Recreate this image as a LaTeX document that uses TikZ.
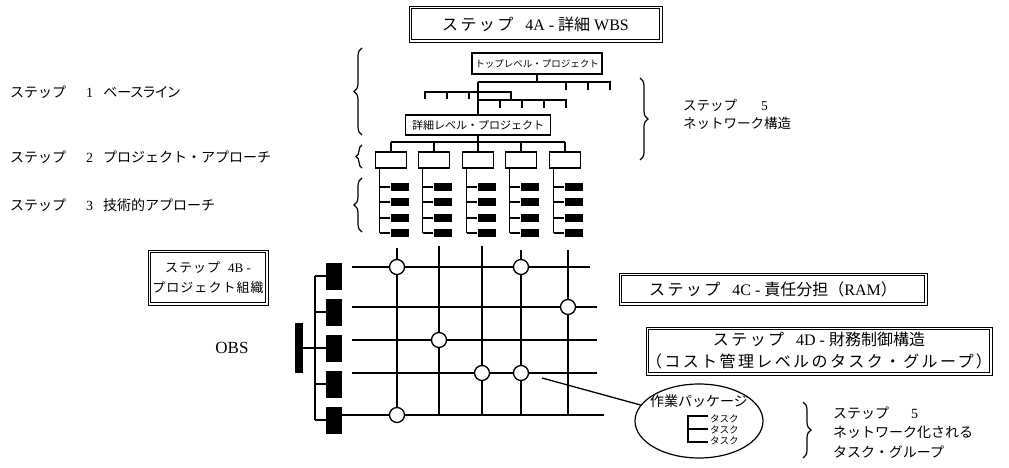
\documentclass[tikz,border=0pt]{standalone}
\usepackage{fontspec}
\setmainfont{Liberation Serif}
\newfontfamily\jp{Noto Sans CJK JP}
\newfontfamily\jpp[RawFeature=+palt]{Noto Sans CJK JP}
\newfontfamily\jps[LetterSpace=15]{Noto Sans CJK JP}
\newfontfamily\jpt[LetterSpace=8]{Noto Sans CJK JP}
\usetikzlibrary{decorations.pathreplacing,shapes.geometric}
\newcommand\innerbox[1]{\draw[line width=0.8pt] ([xshift=2.6pt,yshift=-2.6pt]#1.north west) rectangle ([xshift=-2.6pt,yshift=2.6pt]#1.south east);}
\begin{document}
\begin{tikzpicture}[x=1pt,y=-1pt,
  lin/.style={line width=1.3pt},
  dbox/.style={draw, line width=0.8pt, inner sep=0pt, align=center},
  sbox/.style={draw, line width=1.2pt, inner sep=0pt},
  blk/.style={fill=black, draw=none, inner sep=0pt},
  dot/.style={circle, draw, fill=white, line width=1.3pt, minimum size=15pt, inner sep=0pt},
  brc/.style={decorate, decoration={brace, amplitude=8pt}, line width=1.2pt},
  lbl/.style={anchor=west, inner sep=0pt, font=\fontsize{14}{16}\selectfont},
  tsk/.style={anchor=west, inner sep=0pt, font=\jp\fontsize{9.5}{10}\selectfont}]
\useasboundingbox (0,0) rectangle (1009,468);

% ---- title 4A
\node[dbox, minimum width=253pt, minimum height=36pt, font=\fontsize{16}{18}\selectfont] (t4a) at (535.5,24)
  {{\jps ステップ}\hspace{12pt}4A - {\jp 詳細} WBS};
\innerbox{t4a}

% ---- left step labels
\node[lbl] (s1) at (10,92) {{\jp ステップ}\hspace{20pt}1\hspace{10pt}{\jpp ベースライン}};
\node[lbl] (s2) at (10,157) {{\jp ステップ}\hspace{20pt}2\hspace{10pt}{\jp プロジェクト・アプローチ}};
\node[lbl] (s3) at (10,205) {{\jp ステップ}\hspace{20pt}3\hspace{10pt}{\jp 技術的アプローチ}};

% ---- braces
\draw[brc] (362,135) -- (362,48);
\draw[brc, decoration={brace, amplitude=6pt}] (362,168) -- (362,145);
\draw[brc] (362,232) -- (362,178);
\draw[brc] (640,78) -- (640,160);
\node[lbl, font=\fontsize{13.5}{15}\selectfont] (s5a) at (683,105) {{\jp ステップ}\hspace{24pt}5};
\node[lbl, font=\jp\fontsize{13.5}{15}\selectfont] (s5b) at (683,123) {ネットワーク構造};

% ---- WBS tree
\node[sbox, minimum width=130pt, minimum height=21pt, font=\jp\fontsize{9.5}{11}\selectfont] (tp) at (537,63.5) {トップレベル・プロジェクト};
\node[sbox, minimum width=145pt, minimum height=20pt, font=\jp\fontsize{11}{12}\selectfont] (dl) at (478,125) {詳細レベル・プロジェクト};
\coordinate (j1) at (tp.south |- 0,82);
\draw[lin] (tp.south) -- (j1);
\draw[lin] (478,82) -- (610,82) -- (610,90);
\foreach \x in {566,588} \draw[lin] (\x,82) -- (\x,90);
\draw[lin] (478,82) -- (dl.north);
\draw[lin] (425,99) -- (425,92) -- (511,92) -- (511,100);
\foreach \x in {447,469} \draw[lin] (\x,92) -- (\x,99);
\draw[lin] (478,100) -- (566,100) -- (566,108);
\foreach \x in {500,522,544} \draw[lin] (\x,100) -- (\x,108);
\coordinate (j2) at (dl.south |- 0,142);
\draw[lin] (dl.south) -- (j2);
\draw[lin] (391,142) -- (565,142);
\foreach \cx [count=\i] in {391,434,478,521,565} {
  \node[sbox, minimum width=31pt, minimum height=16pt] (b\i) at (\cx,160) {};
  \draw[lin] (\cx,142) -- (b\i.north);
  \draw[lin] ({\cx-11.5},168) -- ({\cx-11.5},233);
  \foreach \y [count=\j] in {187,202,218,233} {
    \node[blk, minimum width=18pt, minimum height=8pt] (k\i\j) at ({\cx+8.5},\y) {};
    \draw[lin] ({\cx-11.5},\y) -- (k\i\j.west);
  }
}

% ---- 4B box and OBS
\node[dbox, minimum width=120pt, minimum height=55pt, font=\fontsize{13}{20}\selectfont] (t4b) at (208,277.5)
  {{\jpt ステップ}\hspace{8pt}4B -\\{\jpt プロジェクト組織}};
\innerbox{t4b}
\node[font=\fontsize{17}{18}\selectfont] (obsl) at (232,348) {OBS};
\node[blk, minimum width=8pt, minimum height=50pt] (obs) at (299,348) {};
\foreach \y [count=\i] in {276,312,348,384,420} {
  \node[blk, minimum width=16pt, minimum height=27pt] (o\i) at (334,\y) {};
  \draw[lin] (315,\y) -- (o\i.west);
}
\draw[lin] (315,276) -- (315,420);
\draw[lin] (obs.east) -- (315,348);

% ---- RAM grid
\foreach \x/\t in {397/248,439/246,482/246,521/250,568/250} \draw[lin] (\x,\t) -- (\x,415);
\draw[lin] (352,267) -- (590,267);
\foreach \y in {307,340,373} \draw[lin] (352,\y) -- (597,\y);
\draw[lin] (o5.east |- 0,415) -- (604,415);
\foreach \p [count=\i] in {(397,267),(521,267),(568,307),(439,340),(482,373),(521,373),(397,415)}
  \node[dot] (c\i) at \p {};

% ---- 4C, 4D
\node[dbox, minimum width=308pt, minimum height=32pt, font=\fontsize{16}{18}\selectfont] (t4c) at (773,289)
  {{\jps ステップ}\hspace{12pt}4C - {\jp 責任分担（}RAM{\jp ）}};
\innerbox{t4c}
\node[dbox, minimum width=338pt, minimum height=48pt, font=\fontsize{16}{22}\selectfont] (t4d) at (819,351)
  {{\jps ステップ}\hspace{12pt}4D - {\jp 財務制御構造}\\{\jps （コスト管理レベルのタスク・グループ）}};
\innerbox{t4d}

% ---- work package
\node[ellipse, draw, line width=1.2pt, minimum width=128pt, minimum height=74pt] (wp) at (699,421) {};
\node[font=\jp\fontsize{14}{16}\selectfont] (wpt) at (699,401) {作業パッケージ};
\coordinate (gp) at (542,378);
\draw[lin] (gp) -- (wp);
\draw[lin] (708,416) -- (688,416) -- (688,442) -- (708,442);
\draw[lin] (688,429) -- (708,429);
\node[tsk] (ta1) at (710,419) {タスク};
\node[tsk] (ta2) at (710,430) {タスク};
\node[tsk] (ta3) at (710,441) {タスク};

% ---- step 5 lower right
\draw[brc] (803,402) -- (803,458);
\node[lbl] (n1) at (833,413) {{\jp ステップ}\hspace{22pt}5};
\node[lbl, font=\jp\fontsize{14}{16}\selectfont] (n2) at (833,432) {ネットワーク化される};
\node[lbl, font=\jp\fontsize{14}{16}\selectfont] (n3) at (833,452) {タスク・グループ};
\end{tikzpicture}
\end{document}
